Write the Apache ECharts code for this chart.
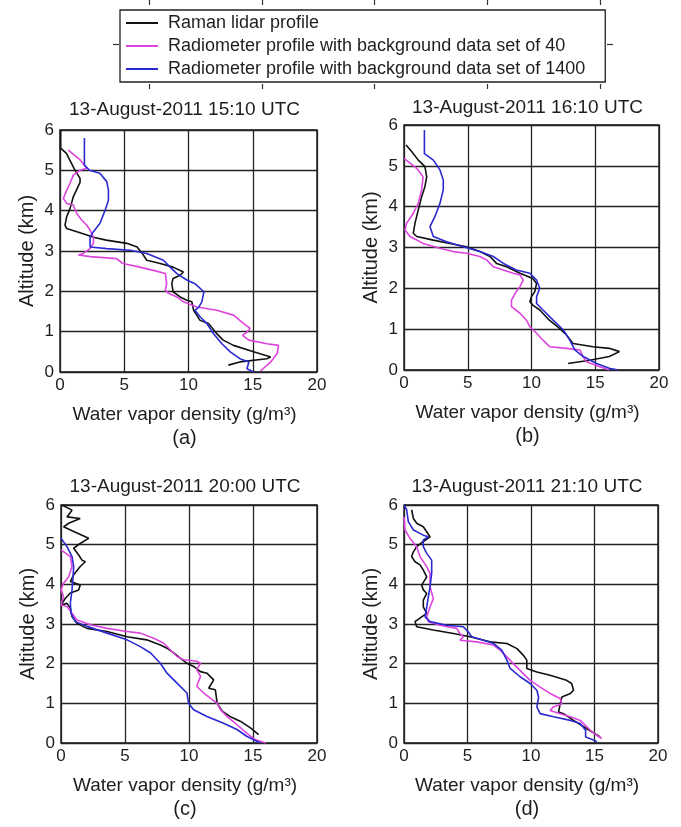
<!DOCTYPE html>
<html>
<head>
<meta charset="utf-8">
<script src="https://cdn.jsdelivr.net/npm/echarts@6/dist/echarts.min.js"></script>
<style>
  html, body { margin: 0; padding: 0; background: #fff; }
  #chart { width: 681px; height: 827px; }
</style>
</head>
<body>
<div id="chart"></div>
<script>
// ---- Labels ----
const seriesNames = [
  'Raman lidar profile',
  'Radiometer profile with background data set of 40',
  'Radiometer profile with background data set of 1400'
];
const panelTitles = [
  '13-August-2011 15:10 UTC',
  '13-August-2011 16:10 UTC',
  '13-August-2011 20:00 UTC',
  '13-August-2011 21:10 UTC'
];
const panelLetters = ['(a)', '(b)', '(c)', '(d)'];
const xAxisName = 'Water vapor density (g/m\u00B3)';
const yAxisName = 'Altitude (km)';
const xRange = [0, 20];
const xStep = 5;
const yRange = [0, 6];
const yStep = 1;

// ---- Profiles: [water vapor density (g/m3), altitude (km)] ----
const lidarA = [[0.05,6.0],[0.05,5.55],[0.5,5.42],[1.17,5.0],[1.56,4.8],[1.56,4.7],[1.04,4.35],[0.78,4.05],[0.52,3.85],[0.39,3.64],[0.52,3.56],[1.8,3.43],[2.6,3.34],[3.6,3.27],[5.2,3.19],[6.0,3.1],[6.4,2.94],[6.75,2.77],[7.8,2.69],[8.8,2.6],[9.6,2.48],[9.35,2.4],[8.8,2.32],[8.7,2.19],[8.8,1.99],[9.35,1.86],[9.87,1.78],[10.26,1.74],[10.4,1.53],[10.9,1.28],[11.56,1.2],[12.2,0.95],[12.7,0.79],[13.5,0.66],[15.06,0.5],[16.4,0.37],[16.1,0.33],[14.0,0.25],[13.1,0.17]];
const radio40A = [[0.65,5.5],[1.56,5.26],[2.08,5.05],[1.56,5.0],[1.04,4.88],[0.78,4.68],[0.52,4.51],[0.26,4.3],[0.52,4.18],[1.04,4.14],[1.3,3.93],[1.69,3.77],[2.08,3.64],[2.34,3.52],[2.6,3.35],[2.6,3.19],[2.34,3.06],[1.82,2.94],[1.43,2.9],[2.34,2.86],[4.4,2.81],[4.9,2.69],[6.2,2.6],[7.27,2.52],[8.2,2.44],[8.3,2.19],[8.2,2.03],[8.44,1.95],[9.1,1.86],[9.6,1.74],[10.65,1.61],[12.2,1.53],[13.5,1.41],[14.3,1.2],[14.8,1.08],[14.55,0.99],[14.2,0.91],[14.7,0.79],[16.1,0.7],[17.0,0.66],[16.9,0.46],[16.4,0.25],[15.8,0.08],[15.6,0.02]];
const radio1400A = [[1.9,5.8],[1.9,5.13],[2.3,5.0],[3.1,4.93],[3.64,4.72],[3.77,4.51],[3.77,4.26],[3.5,4.0],[3.1,3.68],[2.6,3.48],[2.34,3.35],[2.34,3.1],[3.64,3.06],[5.45,3.02],[6.75,2.94],[8.05,2.77],[8.57,2.6],[9.1,2.44],[9.87,2.28],[10.5,2.19],[11.2,1.99],[11.04,1.74],[10.8,1.61],[10.5,1.53],[10.9,1.37],[11.43,1.2],[11.95,0.95],[12.6,0.7],[13.25,0.5],[14.0,0.33],[14.7,0.25],[14.55,0.08],[15.06,0.0]];

const lidarB = [[0.16,5.51],[0.6,5.35],[1.12,5.14],[1.64,4.98],[1.78,4.73],[1.64,4.49],[1.38,4.24],[1.12,3.92],[0.86,3.59],[0.73,3.35],[1.0,3.27],[2.3,3.18],[3.6,3.1],[4.9,3.02],[5.95,2.9],[6.74,2.78],[7.26,2.61],[8.04,2.53],[9.1,2.37],[10.1,2.24],[10.4,2.12],[10.26,1.92],[10.0,1.8],[9.87,1.67],[10.1,1.59],[10.65,1.47],[11.4,1.22],[12.2,1.02],[12.74,0.86],[13.26,0.65],[14.83,0.57],[16.1,0.53],[16.9,0.45],[16.1,0.33],[14.57,0.24],[12.87,0.16]];
const radio40B = [[0,5.18],[1.0,4.94],[1.5,4.73],[1.38,4.41],[1.12,4.08],[0.73,3.84],[0.2,3.59],[0.08,3.43],[0.47,3.27],[1.5,3.1],[2.8,2.98],[3.86,2.9],[4.9,2.86],[5.95,2.78],[6.5,2.69],[7.0,2.53],[7.8,2.45],[8.56,2.37],[9.1,2.33],[9.35,2.2],[9.1,2.04],[8.8,1.92],[8.43,1.71],[8.43,1.55],[9.1,1.39],[9.6,1.22],[9.87,1.06],[10.4,0.9],[10.9,0.73],[11.43,0.57],[12.74,0.53],[13.8,0.49],[14.05,0.33],[14.3,0.2],[15.35,0.08],[16.1,0.0]];
const radio1400B = [[1.6,5.88],[1.6,5.3],[2.3,5.14],[2.82,4.9],[3.08,4.65],[3.08,4.41],[2.82,4.08],[2.43,3.76],[2.04,3.51],[2.3,3.27],[3.34,3.14],[4.65,3.02],[5.95,2.9],[7.0,2.78],[7.8,2.61],[8.8,2.45],[9.87,2.37],[10.4,2.2],[10.65,2.0],[10.4,1.8],[10.4,1.63],[10.9,1.47],[11.7,1.22],[12.5,0.98],[13.0,0.73],[13.4,0.49],[14.05,0.33],[15.1,0.16],[16.1,0.04],[16.8,0.0]];

const lidarC = [[0.08,6.0],[0.86,5.87],[0.47,5.7],[1.5,5.66],[0.6,5.54],[0.2,5.45],[0.99,5.33],[2.16,5.16],[1.5,5.03],[0.99,4.91],[1.38,4.74],[1.64,4.61],[1.9,4.57],[1.5,4.45],[0.99,4.24],[0.73,4.07],[1.5,3.98],[1.38,3.86],[0.73,3.78],[0.34,3.65],[0.0,3.48],[0.47,3.52],[0.73,3.4],[0.86,3.19],[1.25,3.02],[2.03,2.89],[3.6,2.81],[5.16,2.68],[6.7,2.6],[7.76,2.47],[8.28,2.39],[8.8,2.27],[9.32,2.14],[9.84,2.01],[10.36,1.93],[10.9,1.8],[11.4,1.76],[11.93,1.59],[11.54,1.38],[12.06,1.34],[12.2,1.0],[12.6,0.8],[13.2,0.67],[14.0,0.55],[14.8,0.38],[15.44,0.21]];
const radio40C = [[0,4.87],[0.73,4.7],[0.86,4.45],[0.6,4.19],[0.2,4.03],[0.0,3.86],[0.2,3.69],[0.0,3.48],[0.47,3.44],[0.86,3.27],[1.25,3.1],[2.3,2.98],[3.6,2.89],[5.16,2.81],[6.2,2.77],[7.24,2.64],[8.0,2.52],[8.54,2.35],[9.06,2.18],[9.58,2.1],[10.6,2.06],[10.9,2.01],[10.6,1.85],[10.9,1.68],[10.6,1.43],[11.15,1.26],[11.67,1.13],[12.2,1.0],[12.45,0.84],[12.97,0.67],[13.75,0.46],[14.5,0.25],[15.2,0.08],[16.0,0.0]];
const radio1400C = [[0,5.16],[0.47,4.95],[0.86,4.7],[0.99,4.45],[0.94,4.19],[0.86,3.86],[0.73,3.52],[0.78,3.27],[1.12,3.06],[2.03,2.94],[3.6,2.77],[5.16,2.6],[6.2,2.43],[7.0,2.27],[7.76,2.01],[8.28,1.76],[9.06,1.51],[9.84,1.26],[9.97,1.0],[10.36,0.84],[11.4,0.67],[12.7,0.5],[13.75,0.34],[14.5,0.17],[15.57,0.0]];

const lidarD = [[0.6,5.88],[0.74,5.66],[1.0,5.54],[1.52,5.45],[2.05,5.2],[1.52,5.08],[1.0,4.95],[0.74,4.82],[0.6,4.7],[0.87,4.57],[1.26,4.49],[1.52,4.36],[1.79,4.19],[1.39,3.98],[1.52,3.86],[1.79,3.77],[1.52,3.6],[1.52,3.43],[1.79,3.27],[1.39,3.18],[0.87,3.06],[1.0,2.93],[2.3,2.85],[3.9,2.76],[5.2,2.68],[6.78,2.55],[8.1,2.51],[8.9,2.38],[9.4,2.21],[9.67,2.09],[9.67,1.88],[10.46,1.79],[11.5,1.71],[12.8,1.58],[13.2,1.5],[13.35,1.33],[13.1,1.25],[12.43,1.16],[12.3,0.99],[12.17,0.78],[12.56,0.74],[13.35,0.57],[14.4,0.36],[15.45,0.15]];
const radio40D = [[0,5.7],[0.08,5.37],[0.47,5.16],[1.0,4.95],[1.26,4.7],[1.79,4.44],[2.05,4.28],[2.05,3.94],[2.31,3.64],[2.05,3.43],[1.79,3.18],[1.92,3.06],[2.84,2.97],[4.15,2.89],[4.4,2.76],[4.67,2.68],[4.4,2.59],[5.73,2.55],[7.04,2.47],[7.57,2.34],[8.1,2.17],[8.6,2.0],[9.14,1.83],[9.93,1.58],[10.72,1.41],[11.5,1.25],[12.3,1.12],[12.43,0.99],[11.77,0.91],[11.5,0.82],[12.3,0.74],[13.1,0.66],[13.88,0.57],[14.14,0.49],[14.67,0.32],[15.19,0.19],[15.58,0.11]];
const radio1400D = [[0,6.0],[0.21,5.88],[0.34,5.58],[0.74,5.37],[1.52,5.24],[1.92,5.2],[1.52,5.12],[1.52,4.95],[1.79,4.78],[2.18,4.61],[2.18,4.28],[2.05,3.94],[1.92,3.69],[1.79,3.43],[1.66,3.18],[2.05,3.06],[3.36,2.97],[4.67,2.93],[5.07,2.8],[5.33,2.68],[6.25,2.59],[7.04,2.51],[7.7,2.34],[8.1,2.09],[8.36,1.88],[9.14,1.67],[9.93,1.5],[10.46,1.33],[10.6,1.16],[10.46,0.91],[10.72,0.74],[11.77,0.66],[13.1,0.57],[13.88,0.49],[14.3,0.32],[14.3,0.15],[14.67,0.11],[15.19,0.03]];

const panelProfiles = [
  [lidarA, radio40A, radio1400A],
  [lidarB, radio40B, radio1400B],
  [lidarC, radio40C, radio1400C],
  [lidarD, radio40D, radio1400D]
];

// ---- Layout and styling ----
const FONT = '"Liberation Sans", Arial, Helvetica, sans-serif';
const TEXT = '#1e1e1e';
const lineColors = ['#111111', '#dd44dd', '#2a2ad0'];
const panels = [
  { left: 60,  top: 130, width: 257, height: 242, titleGap: 30 },
  { left: 404, top: 125, width: 255, height: 245, titleGap: 27 },
  { left: 61,  top: 505, width: 256, height: 238, titleGap: 28 },
  { left: 404, top: 505, width: 254, height: 238, titleGap: 28 }
];

const grids = [], xAxes = [], yAxes = [], series = [], titles = [];

panels.forEach((p, i) => {
  grids.push({
    left: p.left, top: p.top, width: p.width, height: p.height,
    show: true, borderColor: '#111', borderWidth: 1.4, backgroundColor: 'transparent'
  });
  xAxes.push({
    type: 'value', gridIndex: i, min: xRange[0], max: xRange[1], interval: xStep,
    axisLine: { show: false },
    axisTick: { show: false },
    splitLine: { show: true, lineStyle: { color: '#222', width: 1.3 } },
    axisLabel: { fontSize: 17, color: TEXT, fontFamily: FONT, margin: 5 },
    name: xAxisName, nameLocation: 'middle', nameGap: 33,
    nameTextStyle: { fontSize: 19, color: TEXT, fontFamily: FONT, padding: [0, 8, 0, 0] }
  });
  yAxes.push({
    type: 'value', gridIndex: i, min: yRange[0], max: yRange[1], interval: yStep,
    axisLine: { show: false },
    axisTick: { show: false },
    splitLine: { show: true, lineStyle: { color: '#222', width: 1.3 } },
    axisLabel: { fontSize: 17, color: TEXT, fontFamily: FONT, margin: 6 },
    name: yAxisName, nameLocation: 'middle', nameGap: 23, nameRotate: 90,
    nameTextStyle: { fontSize: 20, color: TEXT, fontFamily: FONT }
  });
  panelProfiles[i].forEach((data, k) => {
    series.push({
      type: 'line', name: seriesNames[k], xAxisIndex: i, yAxisIndex: i,
      data: data, showSymbol: false, symbol: 'none', smooth: false,
      color: lineColors[k],
      lineStyle: { color: lineColors[k], width: 1.6 },
      emphasis: { disabled: true }, silent: true, z: 3 + k
    });
  });
  const cx = p.left + p.width / 2 - 4;
  titles.push({
    text: panelTitles[i], left: cx, top: p.top - p.titleGap, textAlign: 'center', padding: 0,
    textStyle: { fontSize: 19, fontWeight: 'normal', color: TEXT, fontFamily: FONT }
  });
  titles.push({
    text: panelLetters[i], left: cx, top: p.top + p.height + 56, textAlign: 'center', padding: 0,
    textStyle: { fontSize: 20, fontWeight: 'normal', color: TEXT, fontFamily: FONT }
  });
});

// Frame with stray tick marks sitting behind the legend box
const frameIdx = panels.length;
grids.push({ left: 113, top: 0, width: 500, height: 89, show: false });
const frameX = { min: -0.32, max: 4.115, ticks: [0, 1, 2, 3, 4] };
['bottom', 'top'].forEach(pos => {
  xAxes.push({
    type: 'value', gridIndex: frameIdx, position: pos, min: frameX.min, max: frameX.max,
    axisLine: { show: false, onZero: false }, axisLabel: { show: false }, splitLine: { show: false },
    axisTick: { show: true, inside: true, length: 5, customValues: frameX.ticks,
      lineStyle: { color: '#333', width: 1.2 } }
  });
});
['left', 'right'].forEach(pos => {
  yAxes.push({
    type: 'value', gridIndex: frameIdx, position: pos, min: 0, max: 1,
    axisLine: { show: false, onZero: false }, axisLabel: { show: false }, splitLine: { show: false },
    axisTick: { show: true, inside: true, length: 6, customValues: [0.5],
      lineStyle: { color: '#333', width: 1.2 } }
  });
});

const option = {
  backgroundColor: '#ffffff',
  animation: false,
  textStyle: { fontFamily: FONT },
  title: titles,
  legend: {
    data: seriesNames,
    orient: 'vertical',
    left: 120, top: 10,
    padding: [4, 20, 4, 6],
    itemGap: 5,
    itemWidth: 32, itemHeight: 2,
    icon: 'rect',
    backgroundColor: '#fff',
    borderColor: '#222', borderWidth: 1.3, borderRadius: 0,
    selectedMode: false,
    textStyle: { fontSize: 18, color: TEXT, fontFamily: FONT, padding: [0, 0, 0, 5] },
    z: 10
  },
  grid: grids,
  xAxis: xAxes,
  yAxis: yAxes,
  series: series
};

const chart = echarts.init(document.getElementById('chart'), null, { renderer: 'canvas' });
chart.setOption(option);
</script>
</body>
</html>
